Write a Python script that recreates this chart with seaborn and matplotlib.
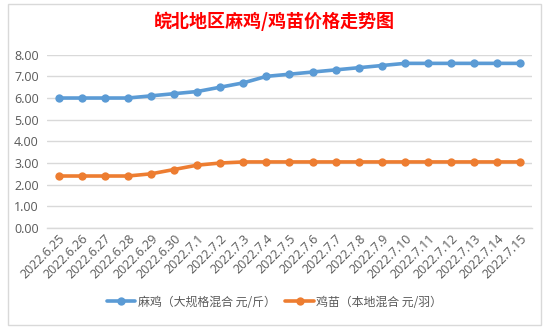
import matplotlib
matplotlib.use("Agg")
import matplotlib.pyplot as plt
import seaborn as sns
import pandas as pd
from matplotlib.patches import Rectangle
from matplotlib.lines import Line2D

dates = ["2022.6.25", "2022.6.26", "2022.6.27", "2022.6.28", "2022.6.29", "2022.6.30",
         "2022.7.1", "2022.7.2", "2022.7.3", "2022.7.4", "2022.7.5", "2022.7.6",
         "2022.7.7", "2022.7.8", "2022.7.9", "2022.7.10", "2022.7.11", "2022.7.12",
         "2022.7.13", "2022.7.14", "2022.7.15"]
majie = [6.0, 6.0, 6.0, 6.0, 6.1, 6.2, 6.3, 6.5, 6.7, 7.0, 7.1, 7.2,
         7.3, 7.4, 7.5, 7.6, 7.6, 7.6, 7.6, 7.6, 7.6]
jimiao = [2.4, 2.4, 2.4, 2.4, 2.5, 2.7, 2.9, 3.0, 3.05, 3.05, 3.05, 3.05,
          3.05, 3.05, 3.05, 3.05, 3.05, 3.05, 3.05, 3.05, 3.05]
series_names = ["麻鸡（大规格混合 元/斤）", "鸡苗（本地混合 元/羽）"]
yticks = [0, 1, 2, 3, 4, 5, 6, 7, 8]
title = "皖北地区麻鸡/鸡苗价格走势图"

sns.set_theme(style="white")
plt.rcParams['font.family'] = ['Noto Sans CJK SC', 'DejaVu Sans']

df = pd.DataFrame({
    "idx": list(range(len(dates))) * 2,
    "value": majie + jimiao,
    "series": [series_names[0]] * len(dates) + [series_names[1]] * len(dates),
})

fig = plt.figure(figsize=(5.49, 3.28), dpi=100)
ax = fig.add_axes([47/549, 1 - 228/328, (532 - 47)/549, (228 - 54.7)/328])

palette = {series_names[0]: "#5B9BD5", series_names[1]: "#ED7D31"}
sns.lineplot(data=df, x="idx", y="value", hue="series", palette=palette,
             marker="o", markersize=6, markeredgewidth=0, linewidth=2.6,
             ax=ax, legend=False)

ax.set_xlim(-0.5, len(dates) - 0.5)
ax.set_ylim(0, 8)
ax.set_yticks(yticks)
ax.set_yticklabels([f"{v:.2f}" for v in yticks], color="#595959", fontsize=9,
                   family=['Open Sans', 'DejaVu Sans'])
ax.set_xticks(range(len(dates)))
ax.set_xticklabels(dates, rotation=45, ha="right", va="top", rotation_mode="anchor",
                   color="#595959", fontsize=9, family=['Open Sans', 'DejaVu Sans'])
ax.tick_params(axis='both', length=0, pad=6)
ax.tick_params(axis='x', pad=3)
ax.set_xlabel("")
ax.set_ylabel("")
ax.grid(axis='y', color="#D9D9D9", linewidth=1)
ax.set_axisbelow(True)
for s in ["top", "right", "left"]:
    ax.spines[s].set_visible(False)
ax.spines["bottom"].set_color("#D9D9D9")
ax.spines["bottom"].set_linewidth(1)

handles = [Line2D([0], [0], color=palette[n], marker="o", markersize=6,
                  markeredgewidth=0, linewidth=2.6) for n in series_names]
fig.legend(handles, series_names, loc="center", bbox_to_anchor=(0.5, 1 - 302/328),
           ncol=2, frameon=False, fontsize=8.6, handlelength=2.4, columnspacing=0.8,
           handletextpad=0.2, labelcolor="#595959")

fig.text(0.5, 1 - 21/328, title, ha="center", va="center", color="#FF0000",
         fontsize=13, fontweight="bold", family=['Noto Sans CJK SC', 'DejaVu Sans'])

fig.patches.append(Rectangle((8/549, 3/328), (541 - 8)/549, (324 - 3)/328,
                             transform=fig.transFigure, fill=False,
                             edgecolor="#D9D9D9", linewidth=1))

fig.savefig("out.png", dpi=100, facecolor="white")
